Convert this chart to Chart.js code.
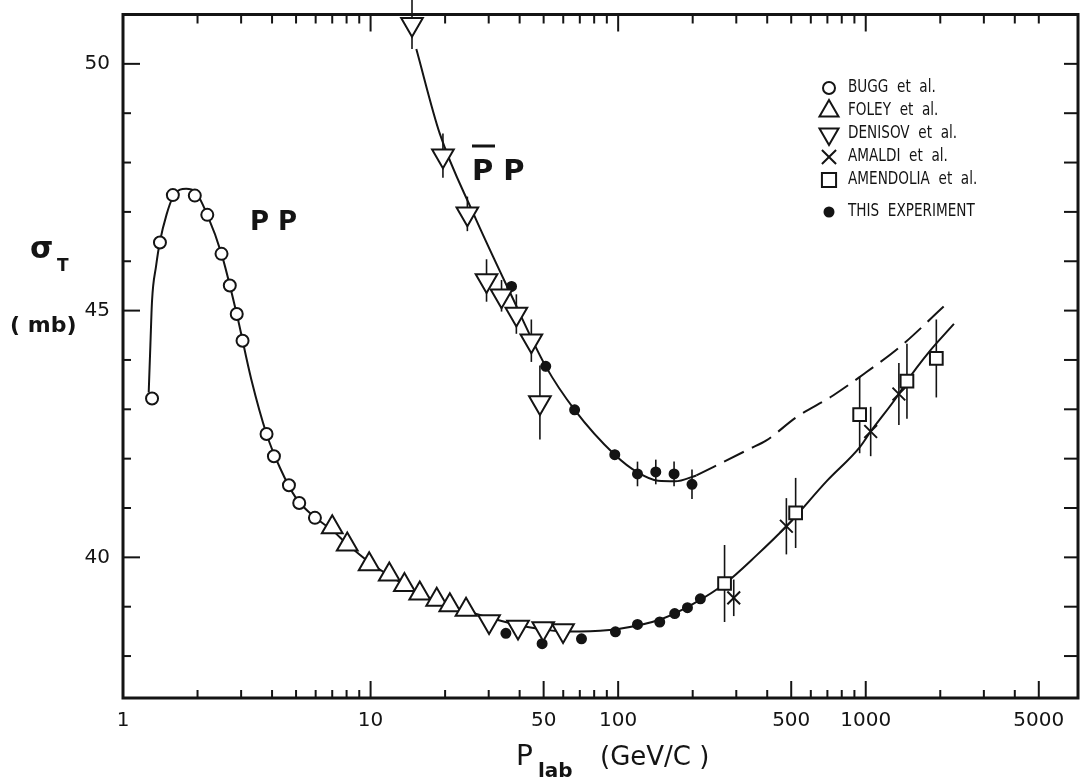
<!DOCTYPE html>
<html>
<head>
<meta charset="utf-8">
<script src="https://cdn.jsdelivr.net/npm/chart.js@4.4.0/dist/chart.umd.min.js"></script>
<style>
  html, body { margin: 0; padding: 0; background: #fff; overflow: hidden; }
  #wrap { width: 1086px; height: 782px; }
  canvas { display: block; }
</style>
</head>
<body>
<div id="wrap"><canvas id="c" width="1086" height="782"></canvas></div>
<script>
// ---- data (P_lab in GeV/c, sigma_T in mb) ----
var buggX = [1.31, 1.41, 1.59, 1.95, 2.19, 2.50, 2.70, 2.88, 3.04, 3.80, 4.07, 4.68, 5.15, 5.96];
var buggY = [43.22, 46.38, 47.34, 47.33, 46.94, 46.15, 45.51, 44.93, 44.39, 42.50, 42.05, 41.46, 41.10, 40.80];

var foleyX = [7.0, 8.05, 9.87, 11.9, 13.7, 15.8, 18.5, 20.9, 24.3];
var foleyY = [40.61, 40.26, 39.86, 39.65, 39.44, 39.27, 39.14, 39.03, 38.94];

var denisovX = [14.7, 19.6, 24.6, 29.4, 33.8, 38.8, 44.6, 48.3, 30.1, 39.4, 49.8, 59.9];
var denisovY = [50.80, 48.14, 46.96, 45.61, 45.30, 44.93, 44.39, 43.14, 38.70, 38.59, 38.56, 38.52];
var denisovErr = [0.5, 0.45, 0.35, 0.43, 0.32, 0.4, 0.43, 0.75, 0, 0, 0, 0];

var amaldiX = [293, 478, 1047, 1361];
var amaldiY = [39.18, 40.63, 42.55, 43.31];
var amaldiErr = [0.37, 0.57, 0.5, 0.63];

var amendoliaX = [269, 521, 945, 1467, 1928];
var amendoliaY = [39.47, 40.90, 42.89, 43.57, 44.03];
var amendoliaErr = [0.78, 0.71, 0.78, 0.76, 0.79];

var thisPbarX = [37.1, 51.0, 66.7, 96.9, 119.7, 141.9, 168.2, 198.7];
var thisPbarY = [45.49, 43.87, 42.99, 42.08, 41.69, 41.73, 41.69, 41.48];
var thisPbarErr = [0.1, 0.1, 0.1, 0.1, 0.25, 0.25, 0.25, 0.3];

var thisPpX = [35.2, 49.3, 71.1, 97.5, 119.7, 147.2, 169.2, 190.5, 214.8];
var thisPpY = [38.46, 38.25, 38.35, 38.49, 38.64, 38.69, 38.86, 38.98, 39.16];

// fitted curves as drawn
var ppCurveX = [1.27, 1.29, 1.31, 1.36, 1.41, 1.5, 1.59, 1.7, 1.8, 1.95, 2.19, 2.5, 2.88, 3.3, 3.8, 4.3, 5.0, 6.0, 7.0, 8.0,
                10, 12, 15, 20, 25, 30, 40, 50, 60, 70, 100, 150, 200, 270, 362, 478, 700, 945, 1047, 1361, 1467, 1800, 2271];
var ppCurveY = [43.34, 44.3, 45.2, 45.9, 46.4, 46.95, 47.3, 47.45, 47.47, 47.42, 46.94, 46.15, 44.93, 43.6, 42.5, 41.82, 41.2, 40.8, 40.55, 40.28,
                39.88, 39.62, 39.33, 39.05, 38.9, 38.78, 38.62, 38.54, 38.5, 38.5, 38.55, 38.75, 39.05, 39.47, 40.04, 40.63, 41.56, 42.23, 42.55, 43.31, 43.57, 44.16, 44.73];

var pbarCurveX = [15.3, 19.05, 26, 37.1, 51, 66.7, 96.9, 120, 145, 170, 207];
var pbarCurveY = [50.30, 48.58, 46.97, 45.30, 43.87, 42.99, 42.08, 41.72, 41.55, 41.54, 41.66];

var pbarDashX = [207, 340, 397, 525, 738, 1004, 1371, 2083];
var pbarDashY = [41.66, 42.2, 42.37, 42.84, 43.28, 43.75, 44.26, 45.10];

// axes
var xTickVals = [1, 2, 3, 4, 5, 6, 7, 8, 9, 10, 20, 30, 40, 50, 60, 70, 80, 90,
                 100, 200, 300, 400, 500, 600, 700, 800, 900, 1000, 2000, 3000, 4000, 5000];
var xMajor = [1, 10, 50, 100, 500, 1000, 5000];
var yTickVals = [38, 39, 40, 41, 42, 43, 44, 45, 46, 47, 48, 49, 50];

var legendNames = ['BUGG  et  al.', 'FOLEY  et  al.', 'DENISOV  et  al.', 'AMALDI  et  al.', 'AMENDOLIA  et  al.', 'THIS  EXPERIMENT'];

var FONT = '"DejaVu Sans", sans-serif';
var INK = '#141414';

function pts(xs, ys) {
  return xs.map(function (v, i) { return { x: v, y: ys[i] }; });
}

function curve(xs, ys, dash) {
  return {
    type: 'line', data: pts(xs, ys), showLine: true, fill: false,
    borderColor: INK, borderWidth: 2, borderDash: dash || [],
    pointRadius: 0, cubicInterpolationMode: 'monotone', order: 10
  };
}

function marks(xs, ys, style, r, filled, rot) {
  return {
    type: 'scatter', data: pts(xs, ys), showLine: false,
    pointStyle: style, pointRadius: r, pointRotation: rot || 0,
    pointBorderWidth: 2, pointBorderColor: INK,
    pointBackgroundColor: filled ? INK : '#fff', order: 1
  };
}

var legendStyles = [
  { pointStyle: 'circle', radius: 6, rotation: 0, filled: false },
  { pointStyle: 'triangle', radius: 11, rotation: 0, filled: false },
  { pointStyle: 'triangle', radius: 11, rotation: 180, filled: false },
  { pointStyle: 'crossRot', radius: 10, rotation: 0, filled: false },
  { pointStyle: 'rect', radius: 10, rotation: 0, filled: false },
  { pointStyle: 'circle', radius: 4.5, rotation: 0, filled: true }
];
var legendRowsY = [88, 111, 134, 157, 180, 212];

function line(ctx, x1, y1, x2, y2) {
  ctx.beginPath(); ctx.moveTo(x1, y1); ctx.lineTo(x2, y2); ctx.stroke();
}

// chart.js keeps a few px extra on the right; pin the plot's right edge 8px from the canvas edge
var rightEdge = {
  id: 'rightEdge',
  afterLayout: function (chart) {
    var a = chart.chartArea, x = chart.scales.x;
    var r = chart.width - 8;
    a.right = r; a.width = r - a.left;
    x.right = r; x.width = r - x.left;
    x.configure();
  }
};

var errorBars = {
  id: 'errorBars',
  beforeDatasetsDraw: function (chart) {
    var ctx = chart.ctx, x = chart.scales.x, y = chart.scales.y;
    var sets = [[denisovX, denisovY, denisovErr], [amaldiX, amaldiY, amaldiErr],
                [amendoliaX, amendoliaY, amendoliaErr], [thisPbarX, thisPbarY, thisPbarErr]];
    ctx.save();
    ctx.strokeStyle = INK; ctx.lineWidth = 1.6;
    sets.forEach(function (s) {
      s[0].forEach(function (v, i) {
        if (!s[2][i]) return;
        var px = x.getPixelForValue(v);
        line(ctx, px, y.getPixelForValue(s[1][i] + s[2][i]), px, y.getPixelForValue(s[1][i] - s[2][i]));
      });
    });
    ctx.restore();
  }
};

var frame = {
  id: 'frame',
  afterDraw: function (chart) {
    var ctx = chart.ctx, a = chart.chartArea, x = chart.scales.x, y = chart.scales.y;
    ctx.save();
    ctx.strokeStyle = INK;
    ctx.lineWidth = 3;
    ctx.strokeRect(a.left, a.top, a.right - a.left, a.bottom - a.top);
    ctx.lineWidth = 2;
    xTickVals.forEach(function (v) {
      var px = x.getPixelForValue(v);
      line(ctx, px, a.bottom, px, a.bottom - (xMajor.indexOf(v) >= 0 ? 17 : 8));
      line(ctx, px, a.top, px, a.top + ([10, 100, 1000].indexOf(v) >= 0 ? 17 : 9));
    });
    yTickVals.forEach(function (v) {
      var py = y.getPixelForValue(v);
      line(ctx, a.left, py, a.left + (v % 5 === 0 ? 17 : 8), py);
      line(ctx, a.right, py, a.right - 14, py);
    });

    // in-plot labels
    ctx.fillStyle = INK;
    ctx.textBaseline = 'alphabetic';
    ctx.font = 'bold 26px ' + FONT;
    ctx.fillText('P P', 250, 230);
    ctx.font = 'bold 29px ' + FONT;
    ctx.fillText('P P', 472, 180);
    ctx.lineWidth = 3;
    line(ctx, 472, 146, 495, 146);

    // axis titles
    ctx.font = 'bold 30px ' + FONT;
    ctx.fillText('σ', 30, 258);
    ctx.font = 'bold 17px ' + FONT;
    ctx.fillText('T', 57, 271);
    ctx.font = 'bold 22px ' + FONT;
    ctx.fillText('( mb)', 10, 332);
    ctx.font = '28px ' + FONT;
    ctx.fillText('P', 516, 765);
    ctx.font = 'bold 20px ' + FONT;
    ctx.fillText('lab', 538, 777);
    ctx.font = '26px ' + FONT;
    ctx.fillText('(GeV/C )', 600, 765);

    // legend
    ctx.textBaseline = 'middle';
    ctx.font = '17px ' + FONT;
    legendStyles.forEach(function (st, i) {
      var ly = legendRowsY[i];
      ctx.lineWidth = 2;
      ctx.strokeStyle = INK;
      ctx.fillStyle = st.filled ? INK : '#fff';
      Chart.helpers.drawPoint(ctx, { pointStyle: st.pointStyle, radius: st.radius, rotation: st.rotation, borderWidth: 2 }, 829, ly);
      ctx.fillStyle = INK;
      ctx.save();
      ctx.translate(848, ly);
      ctx.scale(0.8, 1);
      ctx.fillText(legendNames[i], 0, 0);
      ctx.restore();
    });
    ctx.restore();
  }
};

new Chart(document.getElementById('c'), {
  type: 'scatter',
  data: {
    datasets: [
      curve(ppCurveX, ppCurveY),
      curve(pbarCurveX, pbarCurveY),
      curve(pbarDashX, pbarDashY, [22, 9]),
      marks(buggX, buggY, 'circle', 6, false),
      marks(foleyX, foleyY, 'triangle', 12, false),
      marks(denisovX, denisovY, 'triangle', 12.5, false, 180),
      marks(amaldiX, amaldiY, 'crossRot', 9, false),
      marks(amendoliaX, amendoliaY, 'rect', 9, false),
      marks(thisPbarX, thisPbarY, 'circle', 4.5, true),
      marks(thisPpX, thisPpY, 'circle', 4.5, true)
    ]
  },
  options: {
    responsive: false,
    devicePixelRatio: 1,
    animation: false,
    events: [],
    layout: { padding: { top: 13, right: 8, left: 0, bottom: 0 } },
    plugins: { legend: { display: false }, tooltip: { enabled: false } },
    scales: {
      x: {
        type: 'logarithmic', min: 1, max: 7200,
        grid: { display: false }, border: { display: false },
        afterBuildTicks: function (s) { s.ticks = xTickVals.map(function (v) { return { value: v }; }); },
        afterFit: function (s) { s.height = 84; s.paddingLeft = 0; s.paddingRight = 0; },
        ticks: {
          autoSkip: false, maxRotation: 0, padding: 3, color: INK,
          font: { family: FONT, size: 20 },
          callback: function (v) { return xMajor.indexOf(v) >= 0 ? String(v) : ''; }
        }
      },
      y: {
        type: 'linear', min: 37.15, max: 51.0,
        grid: { display: false }, border: { display: false },
        afterBuildTicks: function (s) { s.ticks = yTickVals.map(function (v) { return { value: v }; }); },
        afterFit: function (s) { s.width = 123; s.paddingTop = 0; s.paddingBottom = 0; },
        ticks: {
          padding: 5, color: INK,
          font: { family: FONT, size: 20 },
          callback: function (v) { return v % 5 === 0 ? String(v) : ''; }
        }
      }
    }
  },
  plugins: [rightEdge, errorBars, frame]
});
</script>
</body>
</html>
